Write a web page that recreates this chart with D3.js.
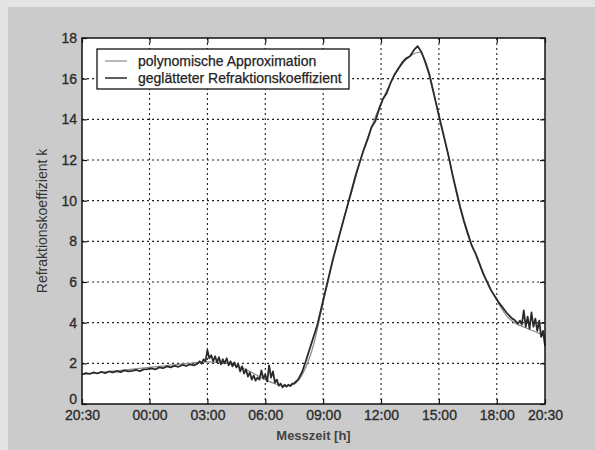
<!DOCTYPE html>
<html><head><meta charset="utf-8">
<script src="https://cdn.jsdelivr.net/npm/d3@7"></script>
<style>body{margin:0;background:#cfcfcf}svg{display:block}</style>
</head><body><svg id="c" width="595" height="450"></svg>
<script>
// x: hours since 20:30
const xTickHours = [0, 3.5, 6.5, 9.5, 12.5, 15.5, 18.5, 21.5, 24];
const xTickLabels = ["20:30", "00:00", "03:00", "06:00", "09:00", "12:00", "15:00", "18:00", "20:30"];
const yTicks = [0, 2, 4, 6, 8, 10, 12, 14, 16, 18];
const seriesNames = ["polynomische Approximation", "geglätteter Refraktionskoeffizient"];

// polynomial approximation, every 0.5 h
const polyHours = [0,0.5,1,1.5,2,2.5,3,3.5,4,4.5,5,5.5,6,6.5,7,7.5,8,8.5,9,9.5,10,10.5,11,11.5,12,12.5,13,13.5,14,14.5,15,15.5,16,16.5,17,17.5,18,18.5,19,19.5,20,20.5,21,21.5,22,22.5,23,23.5,24];
const polyValues = [1.45,1.5,1.55,1.6,1.65,1.7,1.75,1.8,1.85,1.9,1.95,2.0,2.05,2.07,2.05,2.0,1.88,1.7,1.45,1.2,1.0,0.88,0.98,1.6,2.9,5.0,7.0,8.9,10.5,12.2,13.6,14.8,15.8,16.6,17.1,17.3,16.3,14.1,12.2,10.0,8.3,7.2,6.0,5.1,4.35,3.95,3.75,3.55,3.35];

// smoothed refraction coefficient: 0.2 h steps in calm parts, 0.1 h steps in noisy parts
const smoothHoursA = [0,0.2,0.4,0.6,0.8,1,1.2,1.4,1.6,1.8,2,2.2,2.4,2.6,2.8,3,3.2,3.4,3.6,3.8,4,4.2,4.4,4.6,4.8,5,5.2,5.4,5.6,5.8];
const smoothValuesA = [1.45,1.52,1.48,1.55,1.5,1.58,1.52,1.6,1.55,1.62,1.57,1.65,1.6,1.63,1.68,1.62,1.7,1.72,1.75,1.7,1.8,1.76,1.85,1.8,1.88,1.83,1.92,1.87,1.95,1.9];
const smoothHoursB = [6,6.1,6.2,6.3,6.4,6.5,6.6,6.7,6.8,6.9,7,7.1,7.2,7.3,7.4,7.5,7.6,7.7,7.8,7.9,8,8.1,8.2,8.3,8.4,8.5,8.6,8.7,8.8,8.9,9,9.1,9.2,9.3,9.4,9.5,9.6,9.7,9.8,9.9,10,10.1,10.2,10.3,10.4,10.5,10.6,10.7,10.8,10.9,11];
const smoothValuesB = [2.0,2.1,1.98,2.2,2.1,2.65,2.25,2.4,2.1,2.35,2.05,2.3,1.95,2.2,2.0,2.25,1.9,2.1,1.85,2.05,1.8,1.95,1.6,1.85,1.5,1.7,1.35,1.55,1.2,1.4,1.15,1.3,1.2,1.65,1.25,1.45,1.1,1.9,1.3,1.6,1.05,1.2,0.9,1.0,0.82,0.95,0.85,0.95,0.88,1.0,1.02];
const smoothHoursC = [11.2,11.4,11.6,11.8,12,12.2,12.4,12.6,12.8,13,13.2,13.4,13.6,13.8,14,14.2,14.4,14.6,14.8,15,15.2,15.4,15.6,15.8,16,16.2,16.4,16.6,16.8,17,17.2,17.4,17.6,17.8,18,18.2,18.4,18.6,18.8,19,19.2,19.4,19.6,19.8,20,20.2,20.4,20.6,20.8,21,21.2,21.4,21.6,21.8];
const smoothValuesC = [1.2,1.55,2.1,2.7,3.3,3.9,4.7,5.5,6.3,7.1,7.8,8.5,9.2,9.9,10.6,11.3,11.9,12.5,13.0,13.6,13.9,14.5,15.0,15.3,15.8,16.2,16.5,16.8,17.0,17.1,17.4,17.6,17.3,16.8,16.2,15.4,14.6,13.8,13.0,12.2,11.3,10.5,9.7,9.0,8.4,7.8,7.4,6.9,6.4,6.0,5.6,5.3,5.0,4.75];
const smoothHoursD = [22,22.1,22.2,22.3,22.4,22.5,22.6,22.7,22.8,22.9,23,23.1,23.2,23.3,23.4,23.5,23.6,23.7,23.8,23.9,24];
const smoothValuesD = [4.5,4.4,4.3,4.2,4.15,4.05,3.95,4.1,3.9,4.6,3.8,4.3,3.7,4.5,3.8,4.2,3.6,4.1,3.3,3.6,2.85];

const svg = d3.select("#c");
const W = 595, H = 450;
const m = {l: 82, t: 38, r: 545, b: 404};

svg.append("rect").attr("width", W).attr("height", H).attr("fill", "#e4e4e4");
svg.append("rect").attr("x", 8).attr("y", 7).attr("width", W - 8).attr("height", H - 7).attr("fill", "#cbcbcb");

const x = d3.scaleLinear().domain([0, 24]).range([m.l, m.r]);
const y = d3.scaleLinear().domain([0, 18]).range([m.b, m.t]);

svg.append("rect").attr("x", m.l).attr("y", m.t).attr("width", m.r - m.l).attr("height", m.b - m.t).attr("fill", "#fff");

// grid
const g = svg.append("g");
g.selectAll(".gx").data(xTickHours.slice(1, -1)).enter().append("line")
  .attr("x1", d => x(d)).attr("x2", d => x(d)).attr("y1", m.t).attr("y2", m.b)
  .attr("stroke", "#222").attr("stroke-width", 1.1).attr("stroke-dasharray", "2,3");
g.selectAll(".gy").data(yTicks.slice(1, -1)).enter().append("line")
  .attr("y1", d => y(d)).attr("y2", d => y(d)).attr("x1", m.l).attr("x2", m.r)
  .attr("stroke", "#222").attr("stroke-width", 1.1).attr("stroke-dasharray", "2,3");

// lines
const polyData = polyHours.map((h, i) => [h, polyValues[i]]);
const smoothHours = smoothHoursA.concat(smoothHoursB, smoothHoursC, smoothHoursD);
const smoothVals = smoothValuesA.concat(smoothValuesB, smoothValuesC, smoothValuesD);
const smoothData = smoothHours.map((h, i) => [h, smoothVals[i]]);
svg.append("path").datum(polyData).attr("d", d3.line().x(d => x(d[0])).y(d => y(d[1])).curve(d3.curveMonotoneX))
  .attr("fill", "none").attr("stroke", "#8a8a8a").attr("stroke-width", 1.2);
svg.append("path").datum(smoothData).attr("d", d3.line().x(d => x(d[0])).y(d => y(d[1])))
  .attr("fill", "none").attr("stroke", "#2a2a2a").attr("stroke-width", 1.8).attr("stroke-linejoin", "round");

// axes box
svg.append("rect").attr("x", m.l).attr("y", m.t).attr("width", m.r - m.l).attr("height", m.b - m.t)
  .attr("fill", "none").attr("stroke", "#111").attr("stroke-width", 1.5);

const font = "'Liberation Sans', Arial, sans-serif";
const ax = d3.axisBottom(x).tickValues(xTickHours).tickFormat((d, i) => xTickLabels[i]).tickSizeInner(-5).tickSizeOuter(0).tickPadding(6);
const gxA = svg.append("g").attr("transform", `translate(0,${m.b})`).call(ax);
const ay = d3.axisLeft(y).tickValues(yTicks).tickFormat(d3.format("d")).tickSizeInner(-5).tickSizeOuter(0).tickPadding(5);
const gyA = svg.append("g").attr("transform", `translate(${m.l},0)`).call(ay);
const axT = d3.axisTop(x).tickValues(xTickHours).tickFormat("").tickSizeInner(-5).tickSizeOuter(0);
svg.append("g").attr("transform", `translate(0,${m.t})`).call(axT);
const ayR = d3.axisRight(y).tickValues(yTicks).tickFormat("").tickSizeInner(-5).tickSizeOuter(0);
svg.append("g").attr("transform", `translate(${m.r},0)`).call(ayR);
svg.selectAll(".domain").remove();
svg.selectAll(".tick line").attr("stroke", "#111").attr("stroke-width", 1.2);
svg.selectAll(".tick text").attr("font-family", font).attr("font-size", 14).attr("fill", "#2a2a2a")
  .attr("stroke", "#2a2a2a").attr("stroke-width", 0.3);
gyA.selectAll(".tick text").filter(d => d === 0).attr("dy", "-0.05em");

svg.append("text").attr("x", x(12)).attr("y", 440).attr("text-anchor", "middle")
  .attr("font-family", font).attr("font-size", 13).attr("font-weight", "bold").attr("fill", "#444").text("Messzeit [h]");
svg.append("text").attr("transform", `translate(47,${y(9)}) rotate(-90)`).attr("text-anchor", "middle")
  .attr("font-family", font).attr("font-size", 14).attr("fill", "#333").text("Refraktionskoeffizient k");

// legend
const lg = svg.append("g");
lg.append("rect").attr("x", 97).attr("y", 49).attr("width", 252).attr("height", 40)
  .attr("fill", "#fff").attr("stroke", "#111").attr("stroke-width", 1.3);
const lcol = ["#8a8a8a", "#2a2a2a"];
seriesNames.forEach((n, i) => {
  const yy = 61 + i * 17;
  lg.append("line").attr("x1", 105).attr("x2", 127).attr("y1", yy).attr("y2", yy).attr("stroke", lcol[i]).attr("stroke-width", i ? 1.5 : 1.2);
  lg.append("text").attr("x", 138).attr("y", yy + 5).attr("font-family", font).attr("font-size", 14).attr("fill", "#222")
    .attr("stroke", "#222").attr("stroke-width", 0.25).text(n);
});
</script></body></html>
